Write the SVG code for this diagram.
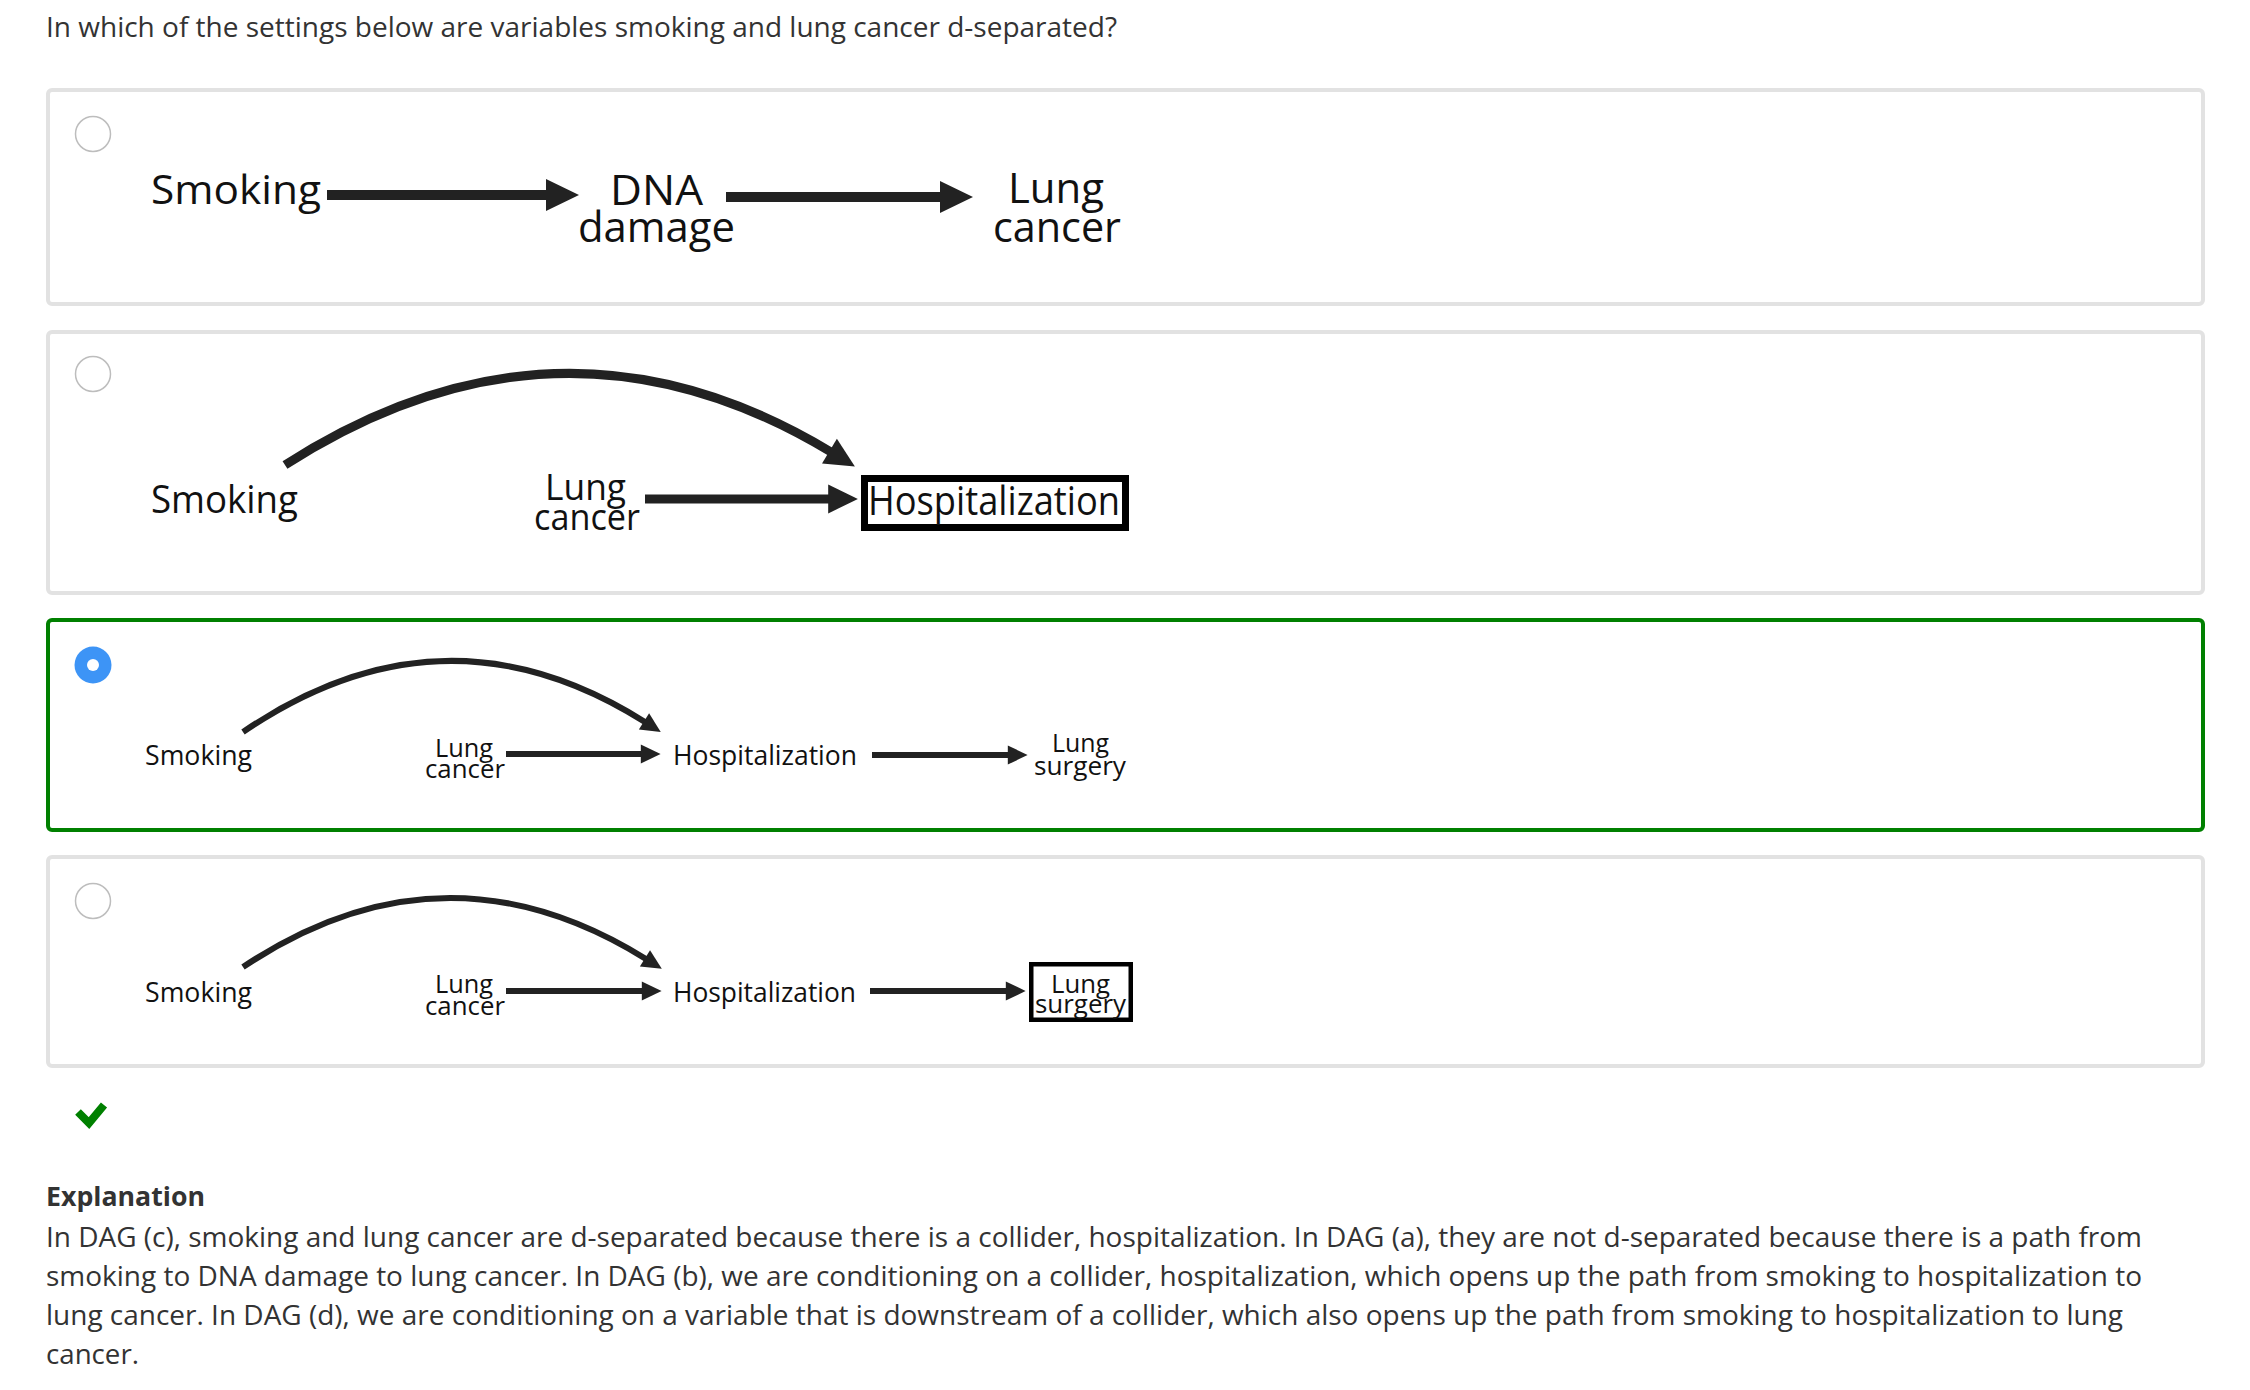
<svg xmlns="http://www.w3.org/2000/svg" width="2250" height="1390" viewBox="0 0 2250 1390">
<style>
.q{font-family:"Open Sans","Noto Sans",sans-serif;font-size:27px;fill:#333}
.b{font-weight:bold}
.lbl{font-family:"Open Sans","Noto Sans",sans-serif;fill:#111}
.card{fill:#fff;stroke:#e2e2e2;stroke-width:4}
.sel{fill:#fff;stroke:#008000;stroke-width:4}
.radio{fill:#fff;stroke:#bdbdbd;stroke-width:1.5}
.edge{fill:none;stroke:#222;stroke-linecap:butt}
.box{fill:none;stroke:#000}
</style>
<defs>
<marker id="ah" markerWidth="3.4" markerHeight="3.2" refX="0.2" refY="1.6" orient="auto" overflow="visible">
<path d="M0,0 L3.3,1.6 L0,3.2 Z" fill="#222"/>
</marker>
</defs>
<rect width="2250" height="1390" fill="#fff"/>
<text class="q" x="46" y="37" textLength="1071" lengthAdjust="spacingAndGlyphs">In which of the settings below are variables smoking and lung cancer d-separated?</text>

<g id="card-a">
<rect class="card" x="48" y="90" width="2155" height="214" rx="4"/>
<circle class="radio" cx="93" cy="134" r="17.5"/>
</g>
<g id="card-b">
<rect class="card" x="48" y="332" width="2155" height="261" rx="4"/>
<circle class="radio" cx="93" cy="374" r="17.5"/>
</g>
<g id="card-c">
<rect class="sel" x="48" y="620" width="2155" height="210" rx="4"/>
<circle cx="93" cy="665" r="18.5" fill="#3d94f6"/>
<circle cx="93" cy="665" r="6" fill="#fff"/>
</g>
<g id="card-d">
<rect class="card" x="48" y="857" width="2155" height="209" rx="4"/>
<circle class="radio" cx="93" cy="901" r="17.5"/>
</g>

<!-- Panel a nodes -->
<g id="a-smoking"><text class="lbl" x="151" y="204" font-size="40" textLength="170" lengthAdjust="spacingAndGlyphs">Smoking</text></g>
<g id="a-dna"><text class="lbl" x="610" y="205" font-size="42" textLength="93" lengthAdjust="spacingAndGlyphs">DNA</text>
<text class="lbl" x="578" y="242" font-size="42" textLength="157" lengthAdjust="spacingAndGlyphs">damage</text></g>
<g id="a-lung"><text class="lbl" x="1008" y="203" font-size="42" textLength="96" lengthAdjust="spacingAndGlyphs">Lung</text>
<text class="lbl" x="993" y="242" font-size="42" textLength="128" lengthAdjust="spacingAndGlyphs">cancer</text></g>

<!-- Panel b nodes -->
<g id="b-smoking"><text class="lbl" x="151" y="513" font-size="38" textLength="147" lengthAdjust="spacingAndGlyphs">Smoking</text></g>
<g id="b-lung"><text class="lbl" x="545" y="500" font-size="36" textLength="81" lengthAdjust="spacingAndGlyphs">Lung</text>
<text class="lbl" x="534" y="530" font-size="36" textLength="106" lengthAdjust="spacingAndGlyphs">cancer</text></g>
<g id="b-hosp"><rect class="box" x="864.5" y="478.5" width="261" height="49" stroke-width="7"/>
<text class="lbl" x="868" y="515" font-size="41" textLength="252" lengthAdjust="spacingAndGlyphs">Hospitalization</text></g>

<!-- Panel c nodes -->
<g id="c-smoking"><text class="lbl" x="145" y="765" font-size="28" textLength="107" lengthAdjust="spacingAndGlyphs">Smoking</text></g>
<g id="c-lung"><text class="lbl" x="435" y="757" font-size="26" textLength="58" lengthAdjust="spacingAndGlyphs">Lung</text>
<text class="lbl" x="425" y="778" font-size="26" textLength="80" lengthAdjust="spacingAndGlyphs">cancer</text></g>
<g id="c-hosp"><text class="lbl" x="673" y="765" font-size="28" textLength="184" lengthAdjust="spacingAndGlyphs">Hospitalization</text></g>
<g id="c-surgery"><text class="lbl" x="1052" y="752" font-size="26" textLength="57" lengthAdjust="spacingAndGlyphs">Lung</text>
<text class="lbl" x="1034" y="775" font-size="26" textLength="92" lengthAdjust="spacingAndGlyphs">surgery</text></g>

<!-- Panel d nodes -->
<g id="d-smoking"><text class="lbl" x="145" y="1002" font-size="28" textLength="107" lengthAdjust="spacingAndGlyphs">Smoking</text></g>
<g id="d-lung"><text class="lbl" x="435" y="993" font-size="26" textLength="58" lengthAdjust="spacingAndGlyphs">Lung</text>
<text class="lbl" x="425" y="1015" font-size="26" textLength="80" lengthAdjust="spacingAndGlyphs">cancer</text></g>
<g id="d-hosp"><text class="lbl" x="673" y="1002" font-size="28" textLength="183" lengthAdjust="spacingAndGlyphs">Hospitalization</text></g>
<g id="d-surgery"><rect class="box" x="1031.25" y="964.25" width="99.5" height="55.5" stroke-width="4.5"/>
<text class="lbl" x="1051" y="993" font-size="26" textLength="59" lengthAdjust="spacingAndGlyphs">Lung</text>
<text class="lbl" x="1035" y="1013" font-size="26" textLength="91" lengthAdjust="spacingAndGlyphs">surgery</text></g>

<g id="connectors">
<path class="edge" d="M327,195 L548,195" stroke-width="10" marker-end="url(#ah)"/>
<path class="edge" d="M726,197 L942,197" stroke-width="10" marker-end="url(#ah)"/>
<path class="edge" d="M285,465 Q560,288.5 831,452" stroke-width="9" marker-end="url(#ah)"/>
<path class="edge" d="M645,499 L830,499" stroke-width="9" marker-end="url(#ah)"/>
<path class="edge" d="M243,732 Q444,595 645,722" stroke-width="6" marker-end="url(#ah)"/>
<path class="edge" d="M506,754 L642,754" stroke-width="6" marker-end="url(#ah)"/>
<path class="edge" d="M872,755 L1009,755" stroke-width="6" marker-end="url(#ah)"/>
<path class="edge" d="M243,967 Q443.5,833 646,959" stroke-width="6" marker-end="url(#ah)"/>
<path class="edge" d="M506,991 L643,991" stroke-width="6" marker-end="url(#ah)"/>
<path class="edge" d="M870,991 L1007,991" stroke-width="6" marker-end="url(#ah)"/>
</g>

<polyline points="78,1112 89,1123 104,1105" fill="none" stroke="#008000" stroke-width="8"/>

<text class="q b" x="46" y="1206" textLength="159" lengthAdjust="spacingAndGlyphs">Explanation</text>
<text class="q" x="46" y="1247" textLength="2096" lengthAdjust="spacingAndGlyphs">In DAG (c), smoking and lung cancer are d-separated because there is a collider, hospitalization. In DAG (a), they are not d-separated because there is a path from</text>
<text class="q" x="46" y="1286" textLength="2096" lengthAdjust="spacingAndGlyphs">smoking to DNA damage to lung cancer. In DAG (b), we are conditioning on a collider, hospitalization, which opens up the path from smoking to hospitalization to</text>
<text class="q" x="46" y="1325" textLength="2077" lengthAdjust="spacingAndGlyphs">lung cancer. In DAG (d), we are conditioning on a variable that is downstream of a collider, which also opens up the path from smoking to hospitalization to lung</text>
<text class="q" x="46" y="1364" textLength="93" lengthAdjust="spacingAndGlyphs">cancer.</text>
</svg>
